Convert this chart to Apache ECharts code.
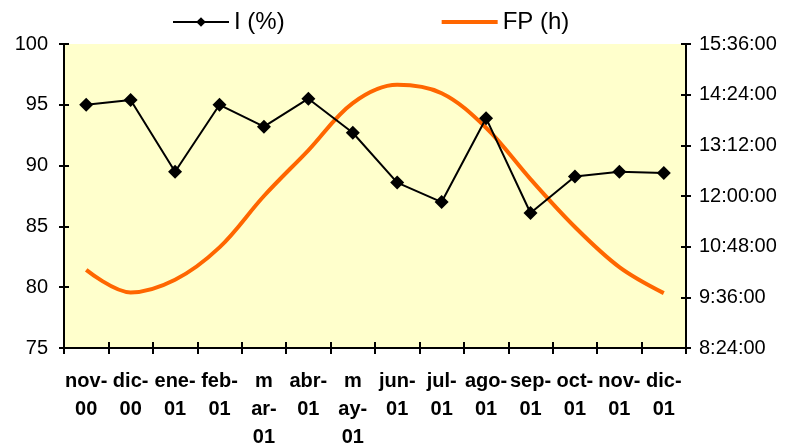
<!DOCTYPE html>
<html>
<head>
<meta charset="utf-8">
<script src="https://cdn.jsdelivr.net/npm/echarts@6/dist/echarts.min.js"></script>
<style>
  html, body { margin: 0; padding: 0; background: #fff; }
  #chart { width: 791px; height: 448px; }
</style>
</head>
<body>
<div id="chart"></div>
<script>
// meses
var months = ['nov-00', 'dic-00', 'ene-01', 'feb-01', 'mar-01', 'abr-01', 'may-01',
  'jun-01', 'jul-01', 'ago-01', 'sep-01', 'oct-01', 'nov-01', 'dic-01'];
// etiquetas tal como salen en el eje (cortadas)
var monthLabels = ['nov-\n00', 'dic-\n00', 'ene-\n01', 'feb-\n01', 'm\nar-\n01', 'abr-\n01', 'm\nay-\n01',
  'jun-\n01', 'jul-\n01', 'ago-\n01', 'sep-\n01', 'oct-\n01', 'nov-\n01', 'dic-\n01'];
// I (%)
var iPct = [95.0, 95.4, 89.5, 95.0, 93.2, 95.5, 92.7, 88.6, 87.0, 93.9, 86.1, 89.1, 89.5, 89.4];
// FP (h) en minutos
var fpMin = [615, 583, 601, 647, 720, 785, 852, 878, 866, 817, 744, 676, 619, 582];

function hms(m) {
  var h = Math.floor(m / 60), mm = Math.round(m - h * 60);
  return h + ':' + (mm < 10 ? '0' : '') + mm + ':00';
}

var chart = echarts.init(document.getElementById('chart'));
var font = 'Arial, "Liberation Sans", sans-serif';

chart.setOption({
  animation: false,
  backgroundColor: '#fff',
  textStyle: { fontFamily: font },
  legend: {
    left: 167, top: 5,
    itemWidth: 56, itemHeight: 12, itemGap: 155,
    textStyle: { fontSize: 24, color: '#000', fontFamily: font },
    data: [
      { name: 'I (%)', lineStyle: { width: 2 } },
      { name: 'FP (h)', itemStyle: { opacity: 0 }, lineStyle: { width: 4 } }
    ]
  },
  grid: {
    left: 64, right: 105, top: 44, bottom: 100,
    outerBoundsMode: 'none',
    show: true, backgroundColor: '#FFFFCC', borderWidth: 0
  },
  xAxis: [{
    type: 'category',
    data: months,
    boundaryGap: true,
    axisLine: { lineStyle: { color: '#000', width: 2 } },
    axisTick: { show: true, length: 6, interval: 0, lineStyle: { color: '#000', width: 2 } },
    axisLabel: {
      interval: 0, margin: 19, color: '#000', fontSize: 20, fontWeight: 'bold',
      fontFamily: font, lineHeight: 28,
      formatter: function (v, i) { return monthLabels[i]; }
    }
  }, {
    type: 'category',
    data: months,
    position: 'bottom',
    axisLine: { show: false },
    axisTick: { show: true, inside: true, length: 6, interval: 0, lineStyle: { color: '#000', width: 2 } },
    axisLabel: { show: false }
  }],
  yAxis: [{
    type: 'value', min: 75, max: 100, interval: 5,
    axisLine: { show: true, lineStyle: { color: '#000', width: 2 } },
    axisTick: { show: true, length: 5, lineStyle: { color: '#000', width: 2 } },
    splitLine: { show: false },
    axisLabel: { color: '#000', fontSize: 20, margin: 16, fontFamily: font }
  }, {
    type: 'value', min: 504, max: 936, interval: 72, position: 'right',
    axisLine: { show: true, lineStyle: { color: '#000', width: 2 } },
    axisTick: { show: true, length: 5, lineStyle: { color: '#000', width: 2 } },
    splitLine: { show: false },
    axisLabel: { color: '#000', fontSize: 20, margin: 13, fontFamily: font, formatter: hms }
  }, {
    type: 'value', min: 75, max: 100, interval: 5, position: 'left',
    axisLine: { show: false },
    axisTick: { show: true, inside: true, length: 5, lineStyle: { color: '#000', width: 2 } },
    splitLine: { show: false }, axisLabel: { show: false }
  }, {
    type: 'value', min: 504, max: 936, interval: 72, position: 'right',
    axisLine: { show: false },
    axisTick: { show: true, inside: true, length: 5, lineStyle: { color: '#000', width: 2 } },
    splitLine: { show: false }, axisLabel: { show: false }
  }],
  series: [{
    name: 'FP (h)',
    type: 'line',
    yAxisIndex: 1,
    data: fpMin,
    smooth: 0.35,
    symbol: 'none',
    lineStyle: { color: '#FF6600', width: 4 },
    itemStyle: { color: '#FF6600' },
    z: 2
  }, {
    name: 'I (%)',
    type: 'line',
    yAxisIndex: 0,
    data: iPct,
    symbol: 'diamond',
    symbolSize: 14,
    lineStyle: { color: '#000', width: 2 },
    itemStyle: { color: '#000' },
    z: 3
  }]
});
</script>
</body>
</html>
